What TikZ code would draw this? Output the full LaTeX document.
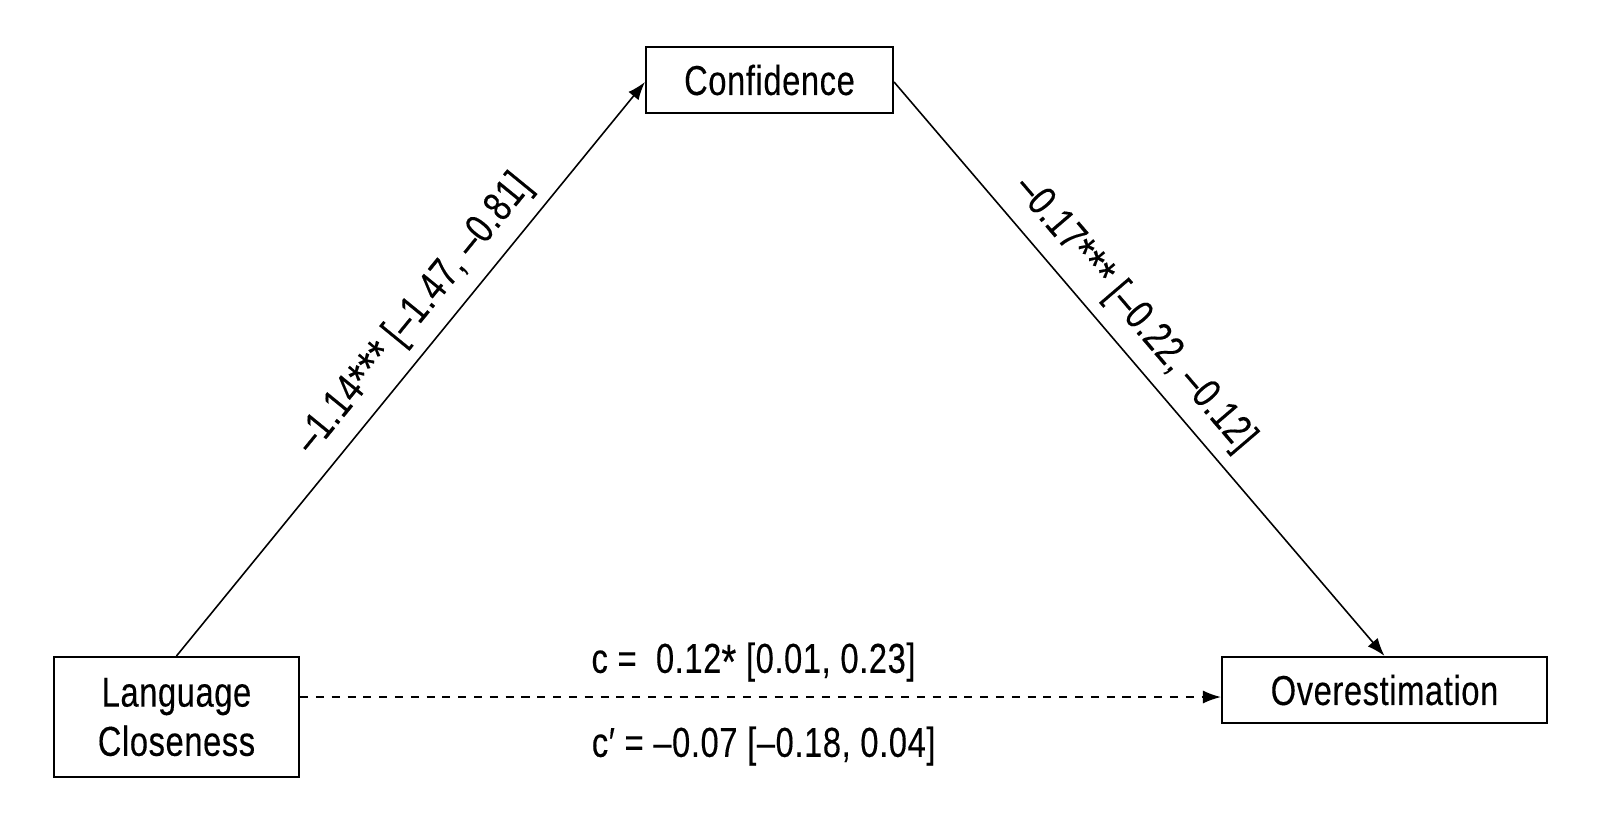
\documentclass[tikz,border=0pt]{standalone}
\usepackage{fontspec}
\setmainfont{Liberation Sans}[FakeStretch=0.78, FakeBold=0.25, LetterSpace=1.5]
\usetikzlibrary{arrows.meta}

\newcommand{\sgst}[1]{\raisebox{-0.14em}{\fontsize{14}{14}\selectfont #1}}

\tikzset{
    varbox/.style={draw, line width=0.6pt, inner sep=0pt, align=center},
    path/.style={line width=0.45pt, -{Latex[length=1.8mm, width=1.3mm]}},
    every node/.style={font=\fontsize{11.9}{14}\selectfont}
}

\begin{document}
\begin{tikzpicture}
        \useasboundingbox (0,0) rectangle (16,-8.25);

        \node [varbox, minimum width=2.47cm, minimum height=0.66cm] (conf) at (7.695,-0.80) {Confidence};
        \node [varbox, minimum width=2.45cm, minimum height=1.20cm] (lang) at (1.765,-7.17) {Language\\Closeness};
        \node [varbox, minimum width=3.25cm, minimum height=0.66cm] (over) at (13.845,-6.90) {Overestimation};

        % a and b paths
        \draw [path] (lang.north) -- ([yshift=-0.02cm]conf.west)
            node [pos=0.56, sloped, above] {–1.14\sgst{***} [–1.47, –0.81]};
        \draw [path] ([yshift=-0.02cm]conf.east) -- (over.north)
            node [pos=0.44, sloped, above] {–0.17\sgst{***} [–0.22, –0.12]};

        % direct path
        \coordinate (dash) at (0,-6.97);
        \draw [path, dash pattern=on 2.3pt off 2.2pt] (lang.east |- dash) -- (over.west |- dash)
            node [pos=0.487, above, xshift=0.05cm, yshift=0.03cm] {c =\ \ 0.12\sgst{*} [0.01, 0.23]}
            node [pos=0.498, below, xshift=0.05cm, yshift=-0.17cm] {c′ = –0.07 [–0.18, 0.04]};

    \end{tikzpicture}
\end{document}
